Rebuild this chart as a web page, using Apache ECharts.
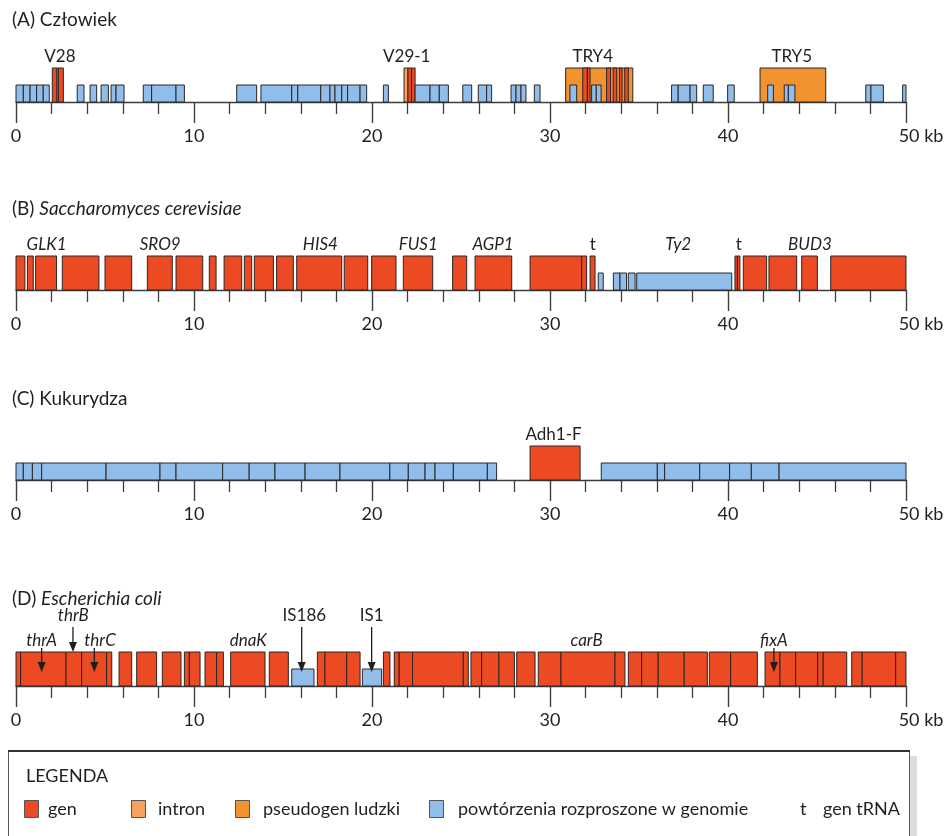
<!DOCTYPE html>
<html><head><meta charset="utf-8">
<script src="https://cdn.jsdelivr.net/npm/echarts@6/dist/echarts.min.js"></script>
<style>html,body{margin:0;padding:0;background:#fff}#c{width:948px;height:836px}</style>
</head><body><div id="c"></div>
<script>
// ---------- data ----------
const tickValues = [0, 10, 20, 30, 40, 50];
const tickLabels = ['0', '10', '20', '30', '40', '50 kb'];
const panelTitles = ['(A) Człowiek', '(B) {i|Saccharomyces cerevisiae}', '(C) Kukurydza', '(D) {i|Escherichia coli}'];

// segments: [start kb, end kb, type]  g=gen, i=intron, p=pseudogen, r=powtórzenie
const segmentsA = [
  [0,0.41,'r'],[0.41,0.79,'r'],[0.79,1.16,'r'],[1.16,1.53,'r'],[1.53,1.87,'r'],
  [2.04,2.3,'g'],[2.3,2.38,'i'],[2.38,2.66,'g'],
  [3.44,3.82,'r'],[4.16,4.53,'r'],[4.78,5.19,'r'],[5.34,5.62,'r'],[5.62,6.07,'r'],
  [7.15,7.62,'r'],[7.62,8.99,'r'],[8.99,9.46,'r'],
  [12.4,13.52,'r'],
  [13.76,15.49,'r'],[15.49,15.83,'r'],[15.83,17.12,'r'],[17.12,17.64,'r'],[17.64,17.92,'r'],[17.92,18.3,'r'],[18.3,18.63,'r'],[18.63,19.33,'r'],[19.33,19.7,'r'],
  [20.64,20.92,'r'],
  [21.8,22.02,'i'],[22.02,22.22,'g'],[22.22,22.42,'g'],
  [22.42,23.26,'r'],[23.26,23.78,'r'],[23.78,24.29,'r'],
  [25.1,25.6,'r'],[25.97,26.44,'r'],[26.44,26.72,'r'],
  [27.81,28.09,'r'],[28.09,28.37,'r'],[28.37,28.65,'r'],[29.12,29.44,'r'],
  [30.88,34.65,'p'],
  [31.84,32.1,'g'],[32.1,32.25,'g'],[33.18,33.4,'g'],[33.55,33.75,'g'],[33.9,34.05,'g'],[34.2,34.4,'g'],
  [31.12,31.5,'r'],[32.34,32.6,'r'],[32.6,32.87,'r'],
  [36.83,37.2,'r'],[37.2,37.87,'r'],[37.87,38.24,'r'],[38.61,39.17,'r'],[39.98,40.35,'r'],
  [41.8,45.49,'p'],
  [42.23,42.55,'r'],[43.16,43.39,'r'],[43.39,43.76,'r'],
  [47.74,48.03,'r'],[48.03,48.73,'r'],
  [49.81,50.0,'r']
];
const segmentsB = [
  [0,0.5,'g'],[0.64,0.97,'g'],[1.1,2.28,'g'],[2.6,4.66,'g'],[5.0,6.5,'g'],[7.38,8.78,'g'],[8.99,10.49,'g'],
  [10.86,11.24,'g'],[11.69,12.68,'g'],[12.83,13.24,'g'],[13.39,14.46,'g'],[14.64,15.58,'g'],[15.77,18.3,'g'],
  [18.44,19.76,'g'],[19.98,21.35,'g'],[21.76,23.41,'g'],[24.53,25.32,'g'],[25.79,27.85,'g'],
  [28.88,31.78,'g'],[31.78,32.06,'g'],
  [32.25,32.53,'g'],
  [32.71,32.99,'r'],[33.56,33.93,'r'],[33.93,34.3,'r'],[34.4,34.78,'r'],[34.87,40.21,'r'],
  [40.39,40.53,'g'],[40.53,40.67,'g'],
  [40.86,42.17,'g'],[42.3,43.86,'g'],[44.14,45.02,'g'],[45.77,50.0,'g']
];
const segmentsC = [
  [0,0.41,'r'],[0.41,0.92,'r'],[0.92,1.44,'r'],[1.44,5.06,'r'],[5.06,8.09,'r'],[8.09,8.99,'r'],[8.99,11.61,'r'],
  [11.61,13.1,'r'],[13.1,14.55,'r'],[14.55,16.24,'r'],[16.24,18.2,'r'],[18.2,21.0,'r'],[21.0,22.04,'r'],
  [22.04,22.98,'r'],[22.98,23.54,'r'],[23.54,24.57,'r'],[24.57,26.48,'r'],[26.48,27.0,'r'],
  [28.88,31.69,'g'],
  [32.88,36.03,'r'],[36.03,36.44,'r'],[36.44,38.41,'r'],[38.41,40.09,'r'],[40.09,41.31,'r'],[41.31,42.87,'r'],[42.87,50.0,'r']
];
const segmentsD = [
  [0,0.26,'g'],[0.26,2.81,'g'],[2.81,3.69,'g'],[3.69,5.09,'g'],[5.09,5.38,'g'],
  [5.79,6.5,'g'],[6.78,7.9,'g'],[8.22,9.27,'g'],[9.46,9.74,'g'],[9.74,10.34,'g'],[10.62,11.27,'g'],[11.27,11.65,'g'],
  [12.06,13.99,'g'],[14.23,15.3,'g'],
  [15.49,16.74,'r'],
  [16.93,17.36,'g'],[17.36,18.58,'g'],[18.58,19.33,'g'],
  [19.46,20.54,'r'],
  [20.64,21.01,'g'],
  [21.25,21.53,'g'],[21.53,22.28,'g'],[22.28,25.13,'g'],[25.13,25.41,'g'],
  [25.56,26.16,'g'],[26.16,27.13,'g'],[27.13,28.0,'g'],
  [28.13,29.16,'g'],
  [29.34,30.62,'g'],[30.62,33.65,'g'],[33.65,34.21,'g'],
  [34.4,35.15,'g'],[35.15,36.08,'g'],[36.08,37.54,'g'],[37.54,38.84,'g'],
  [38.95,40.15,'g'],[40.15,41.65,'g'],
  [42.08,42.92,'g'],[42.92,43.8,'g'],[43.8,45.04,'g'],[45.04,45.35,'g'],[45.35,46.67,'g'],
  [46.95,47.54,'g'],[47.54,49.42,'g'],[49.42,50.0,'g']
];

// labels: [text, x kb, level, italic, arrow x kb, arrow end]
const labelsA = [['V28',2.47,1,0],['V29-1',21.95,1,0],['TRY4',32.4,1,0],['TRY5',43.58,1,0]];
const labelsB = [['GLK1',1.72,1,1],['SRO9',8.1,1,1],['HIS4',17.1,1,1],['FUS1',22.6,1,1],['AGP1',26.8,1,1],
  ['t',32.4,1,0],['Ty2',37.2,1,1],['t',40.6,1,0],['BUD3',44.6,1,1]];
const labelsC = [['Adh1-F',30.2,1,0]];
const labelsD = [['thrA',1.44,1,1,1.44,'mid'],['thrB',3.22,2,1,3.2,'top'],['thrC',4.72,1,1,4.4,'mid'],
  ['dnaK',13.05,1,1],['IS186',16.2,2,0,16.05,'mid'],['IS1',19.98,2,0,19.98,'mid'],
  ['carB',32.06,1,1],['fixA',42.58,1,1,42.58,'mid']];

const legendItems = [['gen','g'],['intron','i'],['pseudogen ludzki','p'],['powtórzenia rozproszone w genomie','r']];
const legendTrna = ['t','gen tRNA'];

// ---------- styles / layout ----------
const COLORS = {g:'#ec4a23', i:'#f5a35c', p:'#f39330', r:'#90bde9'};
const HEIGHTS = {g:34, i:34, p:34, r:17};
const STROKE = '#2a2626';
const TEXT = '#231f20';
const FONT = 'Lato, "Open Sans", sans-serif';
const baselines = [102, 290, 480, 686];
const titleTops = [10, 199, 389, 589];
const GRID_H = 92;
const LEVEL_Y = {1:-45, 2:-70};
const ARROW_START = {1:-38, 2:-59};
const ARROW_END = {mid:-14, top:-34};

const allSegs = [segmentsA, segmentsB, segmentsC, segmentsD];
const allLabels = [labelsA, labelsB, labelsC, labelsD];

const chart = echarts.init(document.getElementById('c'), null, {renderer:'canvas'});

const grid = baselines.map(b => ({left:16, right:42, top:b-GRID_H, height:GRID_H, containLabel:false}));
const xAxis = baselines.map((b, k) => ({
  type:'value', gridIndex:k, min:0, max:50, interval:10,
  axisLine:{show:true, lineStyle:{color:'#3d3d3d', width:1.3}},
  axisTick:{show:true, length:21, lineStyle:{color:'#3d3d3d', width:1.4}},
  minorTick:{show:true, splitNumber:5, length:12, lineStyle:{color:'#3d3d3d', width:1.3}},
  splitLine:{show:false},
  axisLabel:{margin:25, color:TEXT, fontFamily:FONT, fontSize:18,
    formatter: v => { const i = tickValues.indexOf(v); const t = i >= 0 ? tickLabels[i] : ''; return v === 50 ? '{k|' + t + '}' : t; },
    rich:{k:{fontFamily:FONT, fontSize:18, color:TEXT, padding:[0,0,0,30]}}}
}));
const yAxis = baselines.map((b, k) => ({type:'value', gridIndex:k, min:0, max:GRID_H, show:false}));

const series = [];
allSegs.forEach((segs, k) => {
  series.push({
    type:'custom', coordinateSystem:'cartesian2d', xAxisIndex:k, yAxisIndex:k, silent:true, clip:false,
    data: segs.map(s => [s[0], s[1]]),
    renderItem: (params, api) => {
      const t = segs[params.dataIndex][2];
      const p0 = api.coord([api.value(0), 0]);
      const p1 = api.coord([api.value(1), 0]);
      const h = HEIGHTS[t];
      return {type:'rect', shape:{x:p0[0], y:p0[1]-h, width:p1[0]-p0[0], height:h},
        style:{fill:COLORS[t], stroke:STROKE, lineWidth:1}};
    }
  });
});
allLabels.forEach((labs, k) => {
  series.push({
    type:'custom', coordinateSystem:'cartesian2d', xAxisIndex:k, yAxisIndex:k, silent:true, clip:false,
    data: labs.map(l => [l[1], 0]),
    renderItem: (params, api) => {
      const l = labs[params.dataIndex];
      const p = api.coord([api.value(0), 0]);
      const children = [{type:'text', style:{text:l[0], x:p[0], y:p[1]+LEVEL_Y[l[2]], align:'center', verticalAlign:'middle',
        font:(l[3] ? 'italic ' : '') + '17px ' + FONT, fill:TEXT}}];
      if (l[4] !== undefined) {
        const a = api.coord([l[4], 0]);
        const y0 = a[1] + ARROW_START[l[2]];
        const y1 = a[1] + ARROW_END[l[5]];
        children.push({type:'line', shape:{x1:a[0], y1:y0, x2:a[0], y2:y1-8}, style:{stroke:'#1e1e1e', lineWidth:1.3}});
        children.push({type:'polygon', shape:{points:[[a[0]-4, y1-10],[a[0]+4, y1-10],[a[0], y1]]}, style:{fill:'#1e1e1e'}});
      }
      return {type:'group', children};
    }
  });
});

// legend (graphic)
const legendSwatchX = [24, 131, 235, 429];
const legendTextX = [48, 158, 263, 458];
const trnaX = [800, 823];
const LEG_FONT = '18px ' + FONT;
const graphic = [
  {type:'rect', shape:{x:910, y:756, width:7, height:82}, style:{fill:'#dcdcdc'}, silent:true},
  {type:'rect', shape:{x:8.5, y:750.5, width:901, height:92}, style:{fill:'#fff', stroke:'#555', lineWidth:1}, silent:true},
  {type:'line', shape:{x1:8, y1:751, x2:910, y2:751}, style:{stroke:'#333', lineWidth:2}, silent:true},
  {type:'text', style:{text:'LEGENDA', x:26, y:776, verticalAlign:'middle', font:LEG_FONT, fill:TEXT}, silent:true}
];
legendItems.forEach((it, i) => {
  graphic.push({type:'rect', shape:{x:legendSwatchX[i]+0.5, y:800.5, width:14, height:17}, style:{fill:COLORS[it[1]], stroke:'#555', lineWidth:1}, silent:true});
  graphic.push({type:'text', style:{text:it[0], x:legendTextX[i], y:809, verticalAlign:'middle', font:LEG_FONT, fill:TEXT}, silent:true});
});
graphic.push({type:'text', style:{text:legendTrna[0], x:trnaX[0], y:809, verticalAlign:'middle', font:LEG_FONT, fill:TEXT}, silent:true});
graphic.push({type:'text', style:{text:legendTrna[1], x:trnaX[1], y:809, verticalAlign:'middle', font:LEG_FONT, fill:TEXT}, silent:true});

const title = panelTitles.map((t, k) => ({text:t, left:12, top:titleTops[k], padding:0,
  textStyle:{fontFamily:FONT, fontSize:19, fontWeight:'normal', color:TEXT, rich:{i:{fontFamily:FONT, fontSize:19, fontStyle:'italic', color:TEXT}}}}));

chart.setOption({animation:false, backgroundColor:'#fff', title, grid, xAxis, yAxis, series, graphic});
</script></body></html>
